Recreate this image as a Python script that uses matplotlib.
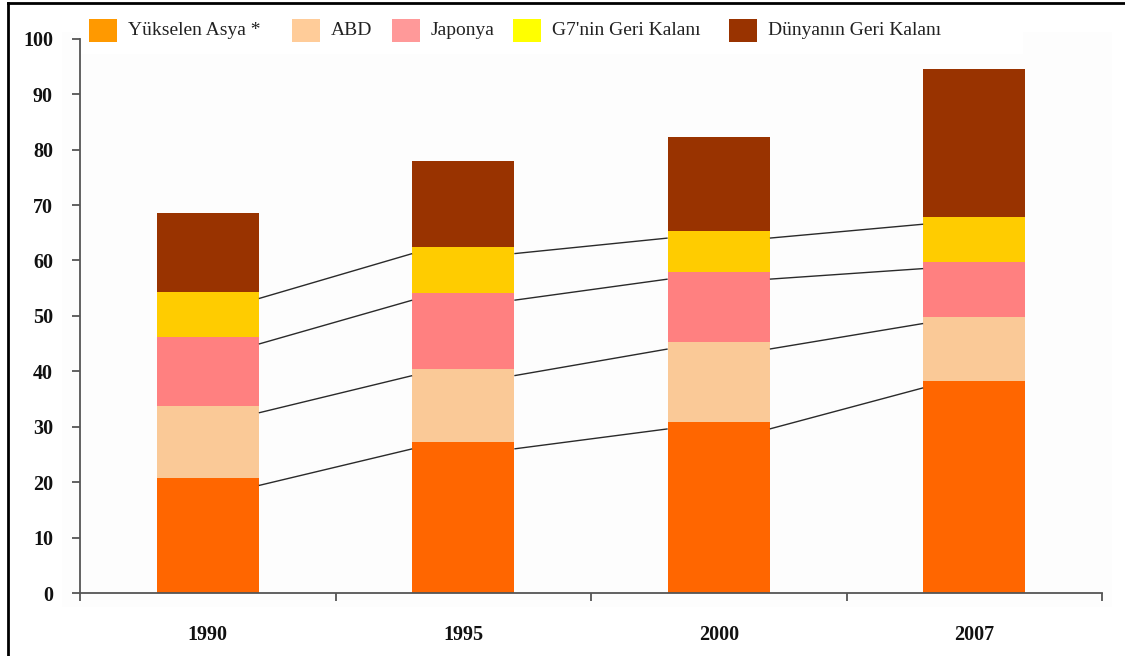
import matplotlib
matplotlib.use("Agg")
import matplotlib.pyplot as plt
import matplotlib.transforms as mtransforms
from matplotlib.patches import Rectangle
from matplotlib.lines import Line2D
import numpy as np

# ---- data -------------------------------------------------------------
years = ["1990", "1995", "2000", "2007"]
series_names = ["Yükselen Asya *", "ABD", "Japonya", "G7'nin Geri Kalanı", "Dünyanın Geri Kalanı"]
yukselen_asya = [20.7, 27.3, 30.9, 38.3]
abd = [13.1, 13.2, 14.4, 11.6]
japonya = [12.4, 13.6, 12.6, 9.9]
g7_geri_kalani = [8.2, 8.4, 7.4, 8.0]
dunyanin_geri_kalani = [14.2, 15.5, 17.0, 26.7]
y_ticks = [0, 10, 20, 30, 40, 50, 60, 70, 80, 90, 100]

# ---- style ------------------------------------------------------------
bar_colors = ["#FF6600", "#FAC997", "#FF8080", "#FFCC00", "#993300"]
legend_colors = ["#FF9900", "#FFCC99", "#FF9999", "#FFFF00", "#993300"]
legend_x_px = [89, 292, 392, 513, 729]
W, H, DPI = 1125, 656, 100
serif = ["Liberation Serif", "DejaVu Serif"]
axis_color = "#555555"

fig = plt.figure(figsize=(W / DPI, H / DPI), dpi=DPI)
fig.patch.set_facecolor("white")

def px_box(x0, y0, x1, y1):
    """Figure-fraction box from pixel corners (top-left origin)."""
    return x0 / W, 1 - y1 / H, (x1 - x0) / W, (y1 - y0) / H

# faint plot-area backdrop and white legend strip
bx, by, bw, bh = px_box(62, 32, 1112, 607)
fig.add_artist(Rectangle((bx, by), bw, bh, transform=fig.transFigure,
                         facecolor="#FDFDFD", edgecolor="none", zorder=0))
lx, ly, lw, lh = px_box(80, 8, 1023, 54)
fig.add_artist(Rectangle((lx, ly), lw, lh, transform=fig.transFigure,
                         facecolor="white", edgecolor="none", zorder=0))

# outer frame (top and left edges)
fig.add_artist(Line2D([7.5 / W, 7.5 / W], [0, 1 - 3 / H], transform=fig.transFigure,
                      color="black", linewidth=2.0, zorder=5))
fig.add_artist(Line2D([7.5 / W, 1], [1 - 3 / H, 1 - 3 / H], transform=fig.transFigure,
                      color="black", linewidth=2.0, zorder=5))

ax_x0, ax_x1 = 80, 1102
ax_y0, ax_y1 = 38.6, 593.3
ax = fig.add_axes(px_box(ax_x0, ax_y0, ax_x1, ax_y1))
ax.set_facecolor("none")

stack = np.array([yukselen_asya, abd, japonya, g7_geri_kalani, dunyanin_geri_kalani])
x = np.arange(len(years))
bar_w = 0.4
bottom = np.zeros(len(years))
for vals, col in zip(stack, bar_colors):
    ax.bar(x, vals, bar_w, bottom=bottom, color=col, edgecolor="none", zorder=2)
    bottom = bottom + vals

# series lines joining the segment boundaries of neighbouring bars
cum = np.cumsum(stack, axis=0)
shift = ax.transData + mtransforms.ScaledTranslation(0, -7 / DPI, fig.dpi_scale_trans)
for level in cum[:4]:
    for i in range(len(years) - 1):
        ax.plot([x[i] + bar_w / 2, x[i + 1] - bar_w / 2], [level[i], level[i + 1]],
                color="#2A2A2A", linewidth=1.0, transform=shift, zorder=3,
                solid_capstyle="butt")

ax.set_xlim(-0.5, len(years) - 0.5)
ax.set_ylim(0, 100)

# axes styling
for side in ["top", "right"]:
    ax.spines[side].set_visible(False)
for side in ["left", "bottom"]:
    ax.spines[side].set_color(axis_color)
    ax.spines[side].set_linewidth(1.3)

ax.set_yticks(y_ticks)
ax.set_yticklabels([str(v) for v in y_ticks])
ax.tick_params(axis="y", direction="out", length=6, width=1.3, color=axis_color,
               pad=13.5, labelsize=14.5)

ax.set_xticks(np.arange(-0.5, len(years)), minor=False)
ax.set_xticklabels([])
ax.set_xticks(x, minor=True)
ax.set_xticklabels(years, minor=True)
ax.tick_params(axis="x", which="major", direction="out", length=6, width=1.3, color=axis_color)
ax.tick_params(axis="x", which="minor", length=0, pad=23, labelsize=14.5)

for lab in ax.get_yticklabels() + ax.get_xticklabels(minor=True):
    lab.set_fontfamily(serif)
    lab.set_fontweight("bold")
    lab.set_color("#111111")

# legend row
sq_w, sq_h, sq_top = 28, 23, 19
for name, col, px in zip(series_names, legend_colors, legend_x_px):
    rx, ry, rw, rh = px_box(px, sq_top, px + sq_w, sq_top + sq_h)
    fig.add_artist(Rectangle((rx, ry), rw, rh, transform=fig.transFigure,
                             facecolor=col, edgecolor="none", zorder=4))
    fig.text((px + sq_w + 11) / W, 1 - (sq_top + sq_h / 2) / H, name,
             family=serif, fontsize=14, color="#222222", va="center", ha="left")

fig.savefig("out.png", dpi=DPI, facecolor="white")
